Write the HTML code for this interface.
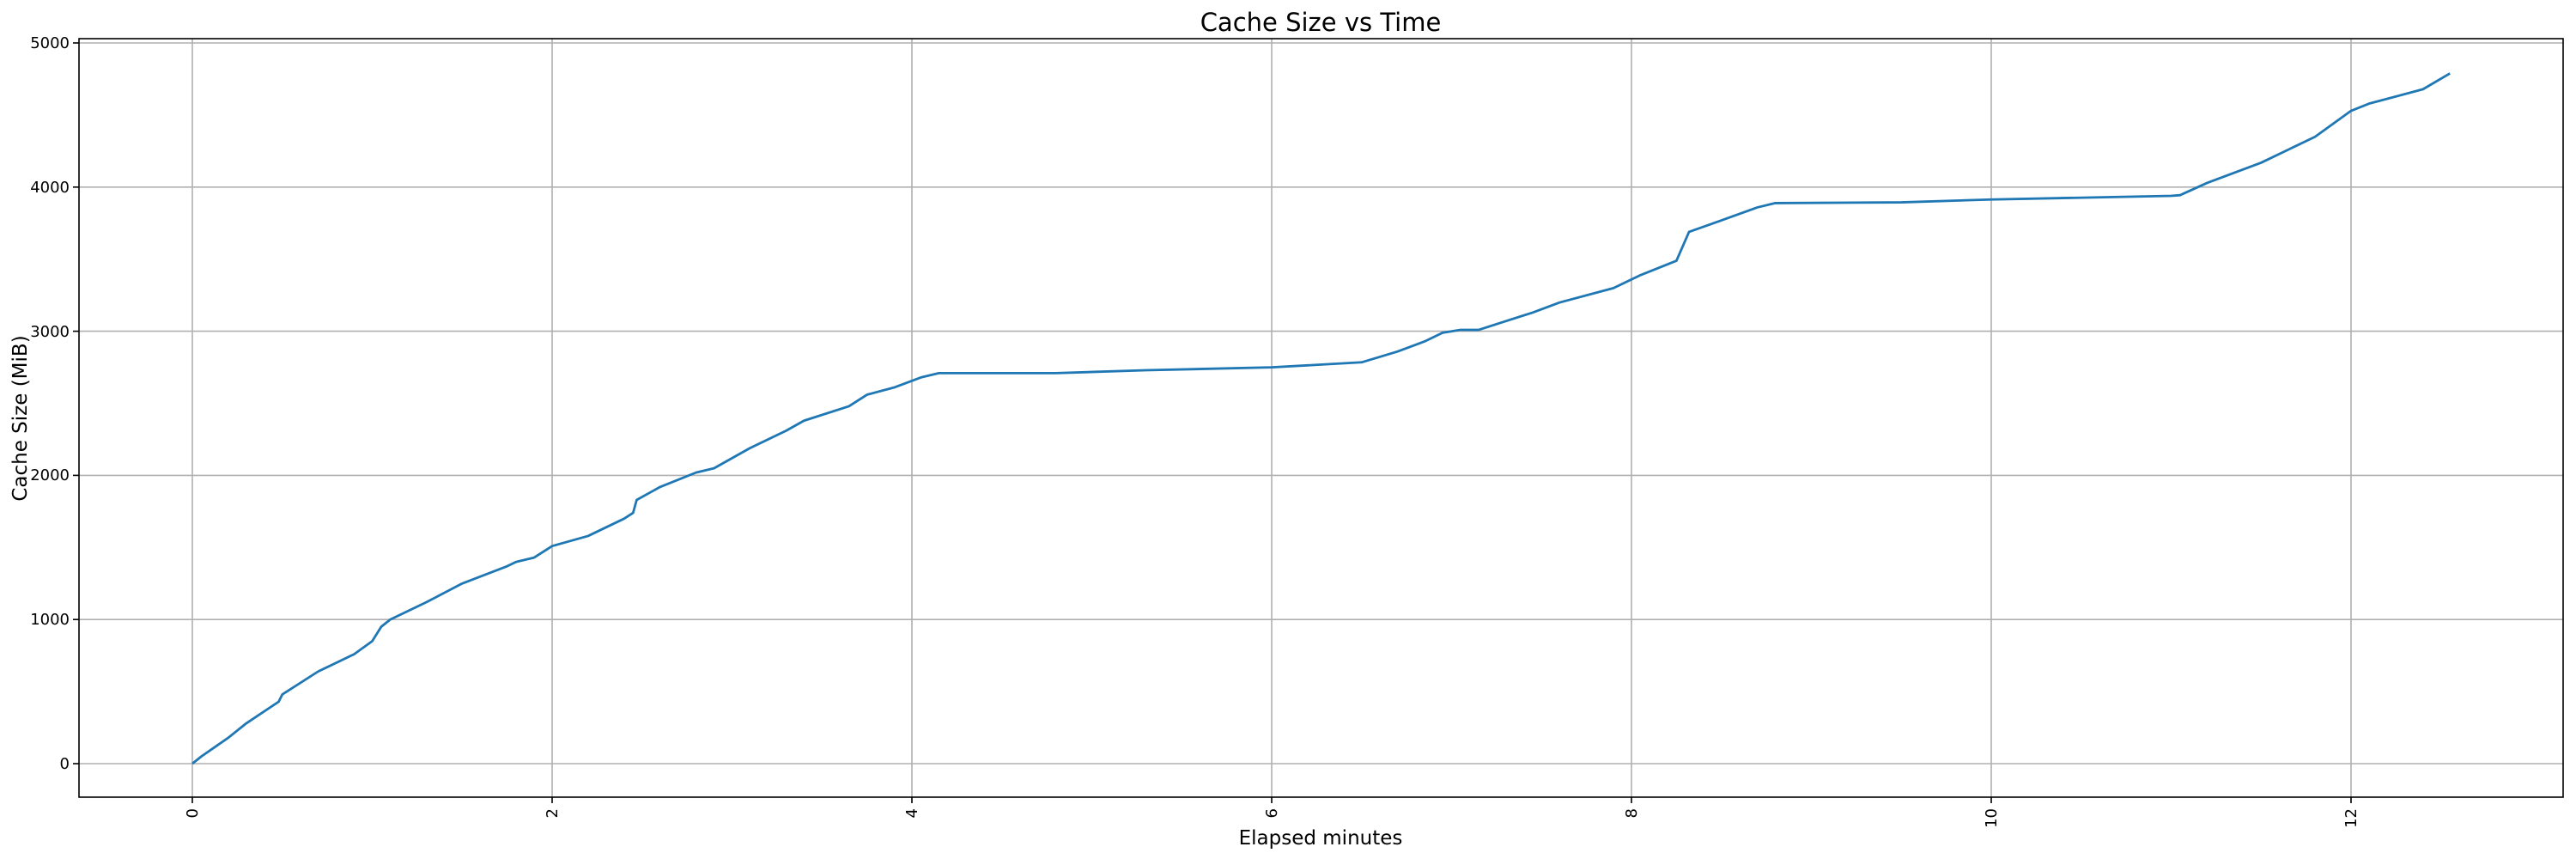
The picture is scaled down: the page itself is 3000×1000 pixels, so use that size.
<!DOCTYPE html>
<html><head><meta charset="utf-8"><style>
html,body{margin:0;padding:0;background:#fff;}
svg{display:block;font-family:"DejaVu Sans","Liberation Sans",sans-serif;}
</style></head><body>
<svg width="3000" height="1000" viewBox="0 0 3000 1000" xmlns="http://www.w3.org/2000/svg">
<rect width="3000" height="1000" fill="#fff"/>
<g stroke="#b0b0b0" stroke-width="1.6">
<line x1="92" x2="2985" y1="889" y2="889"/>
<line x1="92" x2="2985" y1="721.2" y2="721.2"/>
<line x1="92" x2="2985" y1="553.4" y2="553.4"/>
<line x1="92" x2="2985" y1="385.6" y2="385.6"/>
<line x1="92" x2="2985" y1="217.8" y2="217.8"/>
<line x1="92" x2="2985" y1="50" y2="50"/>
<line y1="45" y2="928" x1="224" x2="224"/>
<line y1="45" y2="928" x1="643" x2="643"/>
<line y1="45" y2="928" x1="1062" x2="1062"/>
<line y1="45" y2="928" x1="1481" x2="1481"/>
<line y1="45" y2="928" x1="1900" x2="1900"/>
<line y1="45" y2="928" x1="2319" x2="2319"/>
<line y1="45" y2="928" x1="2738" x2="2738"/>
</g>
<g transform="translate(224,889) scale(209.5,-0.16776)">
<polyline fill="none" stroke="#1f77b4" stroke-width="2.8" vector-effect="non-scaling-stroke" stroke-linejoin="round"
points="0,0 0.05,50 0.2,180 0.3,280 0.48,430 0.5,480 0.7,640 0.9,760 1.0,850 1.05,950 1.1,1000 1.3,1120 1.5,1250 1.75,1370 1.8,1400 1.9,1430 2.0,1510 2.2,1580 2.4,1700 2.45,1740 2.47,1830 2.6,1920 2.8,2020 2.9,2050 3.1,2190 3.3,2310 3.4,2380 3.65,2480 3.75,2560 3.9,2610 4.05,2680 4.15,2710 4.8,2710 5.3,2730 6.0,2750 6.5,2785 6.7,2860 6.85,2930 6.95,2990 7.05,3010 7.15,3010 7.3,3070 7.45,3130 7.6,3200 7.9,3300 8.05,3390 8.25,3490 8.32,3690 8.5,3770 8.7,3860 8.8,3890 9.5,3895 10.0,3915 11.0,3940 11.05,3945 11.2,4030 11.5,4170 11.8,4350 12.0,4530 12.1,4580 12.4,4680 12.55,4790"/>
</g>
<rect x="92" y="45" width="2893" height="883" fill="none" stroke="#000" stroke-width="1.6"/>
<g stroke="#000" stroke-width="1.6">
<line x1="85" x2="92" y1="889" y2="889"/><line x1="85" x2="92" y1="721.2" y2="721.2"/><line x1="85" x2="92" y1="553.4" y2="553.4"/><line x1="85" x2="92" y1="385.6" y2="385.6"/><line x1="85" x2="92" y1="217.8" y2="217.8"/><line x1="85" x2="92" y1="50" y2="50"/>
<line y1="928" y2="935" x1="224" x2="224"/><line y1="928" y2="935" x1="643" x2="643"/><line y1="928" y2="935" x1="1062" x2="1062"/><line y1="928" y2="935" x1="1481" x2="1481"/><line y1="928" y2="935" x1="1900" x2="1900"/><line y1="928" y2="935" x1="2319" x2="2319"/><line y1="928" y2="935" x1="2738" x2="2738"/>
</g>
<g font-size="18" fill="#000" text-anchor="end">
<text x="81" y="895">0</text><text x="81" y="727">1000</text><text x="81" y="559">2000</text><text x="81" y="392">3000</text><text x="81" y="224">4000</text><text x="81" y="56">5000</text>
</g>
<g font-size="18" fill="#000" text-anchor="end">
<text transform="translate(230,941) rotate(-90)">0</text>
<text transform="translate(649,941) rotate(-90)">2</text>
<text transform="translate(1068,941) rotate(-90)">4</text>
<text transform="translate(1487,941) rotate(-90)">6</text>
<text transform="translate(1906,941) rotate(-90)">8</text>
<text transform="translate(2325,941) rotate(-90)">10</text>
<text transform="translate(2744,941) rotate(-90)">12</text>
</g>
<text x="1538" y="36" font-size="29" text-anchor="middle" fill="#000">Cache Size vs Time</text>
<text x="1538" y="983" font-size="23" text-anchor="middle" fill="#000">Elapsed minutes</text>
<text transform="translate(31,487) rotate(-90)" font-size="23" text-anchor="middle" fill="#000">Cache Size (MiB)</text>
</svg>
</body></html>
